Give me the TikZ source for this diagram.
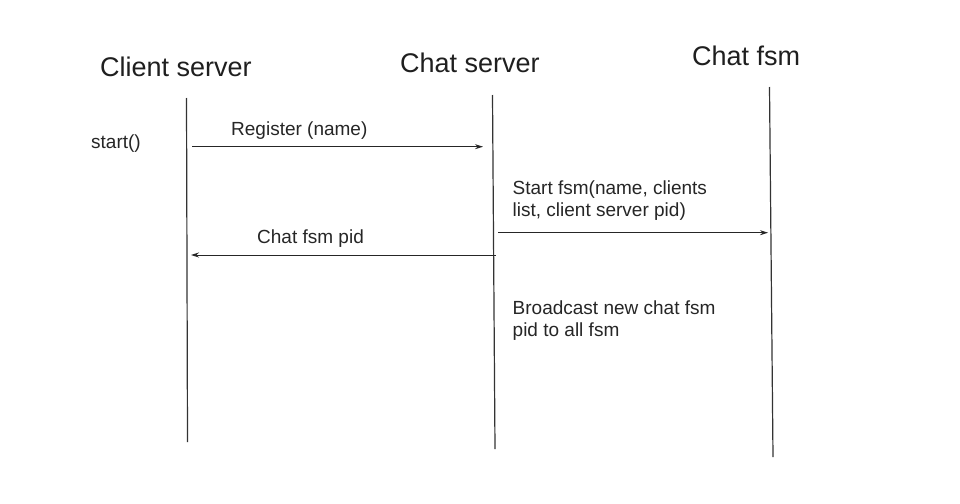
\documentclass[tikz,border=0pt]{standalone}
\usepackage{fontspec}
\setmainfont{Liberation Sans}
\usetikzlibrary{arrows.meta}
\begin{document}
\begin{tikzpicture}[x=1pt,y=-1pt,
  lifeline/.style={draw=black!80, line width=1.2pt},
  msg/.style={draw=black!85, line width=0.9pt, -{Stealth[length=8pt,width=5pt]}},
  title/.style={font=\fontsize{27}{32}\selectfont, text=black!88, inner sep=0pt, anchor=base west},
  lbl/.style={font=\fontsize{19}{22.5}\selectfont, text=black!85, inner sep=0pt, anchor=base west, align=left}]
\useasboundingbox[fill=white] (0,0) rectangle (960,503);
% titles
\node[title] (t1) at (100,76) {Client server};
\node[title] (t2) at (400,73) {Chat server};
\node[title] (t3) at (692,66) {Chat fsm};
% lifelines
\coordinate (c1) at (186.5,98);
\coordinate (c2) at (187.5,442);
\coordinate (s1) at (492.5,95);
\coordinate (s2) at (495,449);
\coordinate (f1) at (769.5,87);
\coordinate (f2) at (773,457);
\draw[lifeline] (c1) -- (c2);
\draw[lifeline] (s1) -- (s2);
\draw[lifeline] (f1) -- (f2);
% messages
\coordinate (m1a) at (192,146.7);
\coordinate (m1b) at (483,146.7);
\coordinate (m2a) at (498,232.7);
\coordinate (m2b) at (768,232.7);
\coordinate (m3a) at (495.5,255);
\coordinate (m3b) at (191,255);
\draw[msg] (m1a) -- (m1b);
\draw[msg] (m2a) -- (m2b);
\draw[msg] (m3a) -- (m3b);
% labels
\node[lbl] (start) at (91,148) {start()};
\node[lbl] (reg) at (231,135) {Register (name)};
\node[lbl] (pid) at (257,243.3) {Chat fsm pid};
\node[lbl] (sf) at (512.5,216.7) {Start fsm(name, clients\\list, client server pid)};
\node[lbl] (bc) at (512.5,336.5) {Broadcast new chat fsm\\pid to all fsm};
\end{tikzpicture}
\end{document}
